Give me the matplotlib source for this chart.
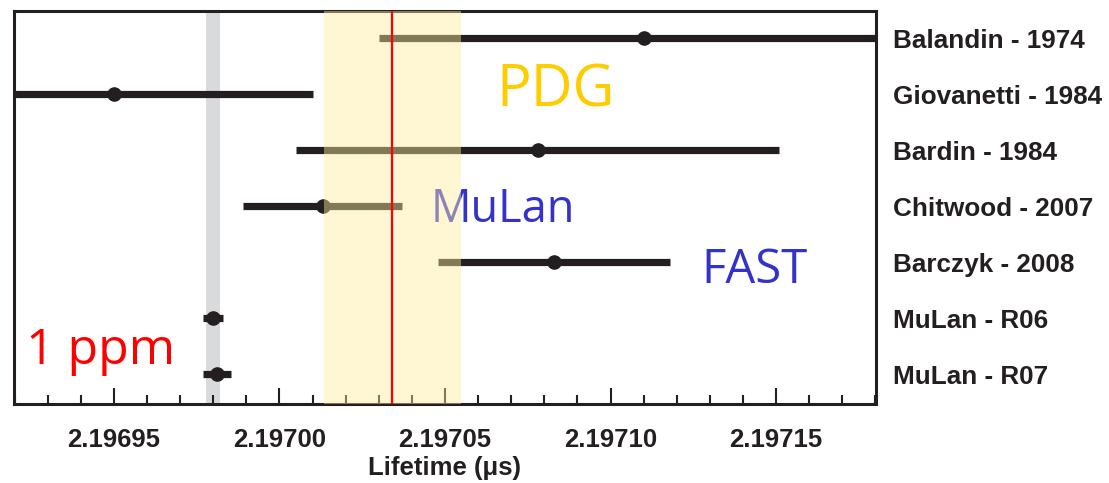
import matplotlib
matplotlib.use("Agg")
import matplotlib.pyplot as plt

# muon lifetime measurements (us)
names = ["Balandin - 1974", "Giovanetti - 1984", "Bardin - 1984", "Chitwood - 2007",
         "Barczyk - 2008", "MuLan - R06", "MuLan - R07"]
lifetime = [2.19711, 2.19695, 2.197078, 2.197013, 2.197083, 2.1969800, 2.1969812]
err = [0.00008, 0.00006, 0.000073, 0.000024, 0.000035, 0.0000030, 0.0000042]

pdg_center = 2.197034
pdg_err = 0.0000207
ppm_center = 2.19698
ppm_err = 0.0000021

xticks = [2.19695, 2.19700, 2.19705, 2.19710, 2.19715]
xticklabels = ["2.19695", "2.19700", "2.19705", "2.19710", "2.19715"]

dark = "#231F20"

fig = plt.figure(figsize=(11.09, 4.83), dpi=100)
ax = fig.add_axes([14 / 1109, 79 / 483, 862 / 1109, 393 / 483])

ax.axvspan(ppm_center - ppm_err, ppm_center + ppm_err, color="#D9DADC", lw=0, zorder=0)

ypos = list(range(len(names)))
ax.errorbar(lifetime, ypos, xerr=err, fmt="o", color=dark, ms=9.5, elinewidth=5.2,
            capsize=0, zorder=2)

ax.axvspan(pdg_center - pdg_err, pdg_center + pdg_err, color=(1.0, 0.93, 0.62),
           alpha=0.44, lw=0, zorder=3)
ax.axvline(pdg_center, color="#FF0000", lw=1.6, zorder=4)

ax.text(2.1970655, 1.22, "PDG", color="#FFCC00", fontsize=41.5, family="Open Sans", zorder=1)
ax.text(2.1970458, 3.28, "MuLan", color="#3333CC", fontsize=32.5, family="Open Sans", zorder=1)
ax.text(2.1971275, 4.36, "FAST", color="#3333CC", fontsize=34, family="Open Sans", zorder=1)
ax.text(2.1969235, 5.82, "1 ppm", color="#FF0000", fontsize=36, family="Open Sans", zorder=1)

ax.set_xlim(2.1969198, 2.1971802)
ax.set_ylim(6.53, -0.49)

ax.set_xticks(xticks)
ax.set_xticklabels(xticklabels, fontsize=18.5, fontweight="bold", family="Liberation Sans",
                   color=dark)
ax.set_xticks([x / 1e5 for x in range(219692, 219719)], minor=True)
ax.tick_params(axis="x", which="major", direction="in", length=11.5, width=1.5,
               color=dark, pad=17)
ax.tick_params(axis="x", which="minor", direction="in", length=6.5, width=1.5, color=dark)

ax.yaxis.tick_right()
ax.set_yticks(ypos)
ax.set_yticklabels(names, fontsize=18.8, fontweight="bold", family="Liberation Sans",
                   color=dark)
ax.tick_params(axis="y", length=0, pad=12)

ax.set_xlabel("Lifetime (μs)", fontsize=18.5, fontweight="bold", family="Liberation Sans",
              color=dark, labelpad=3)

for s in ax.spines.values():
    s.set_linewidth(2.2)
    s.set_color(dark)

fig.savefig("out.png", dpi=100)
